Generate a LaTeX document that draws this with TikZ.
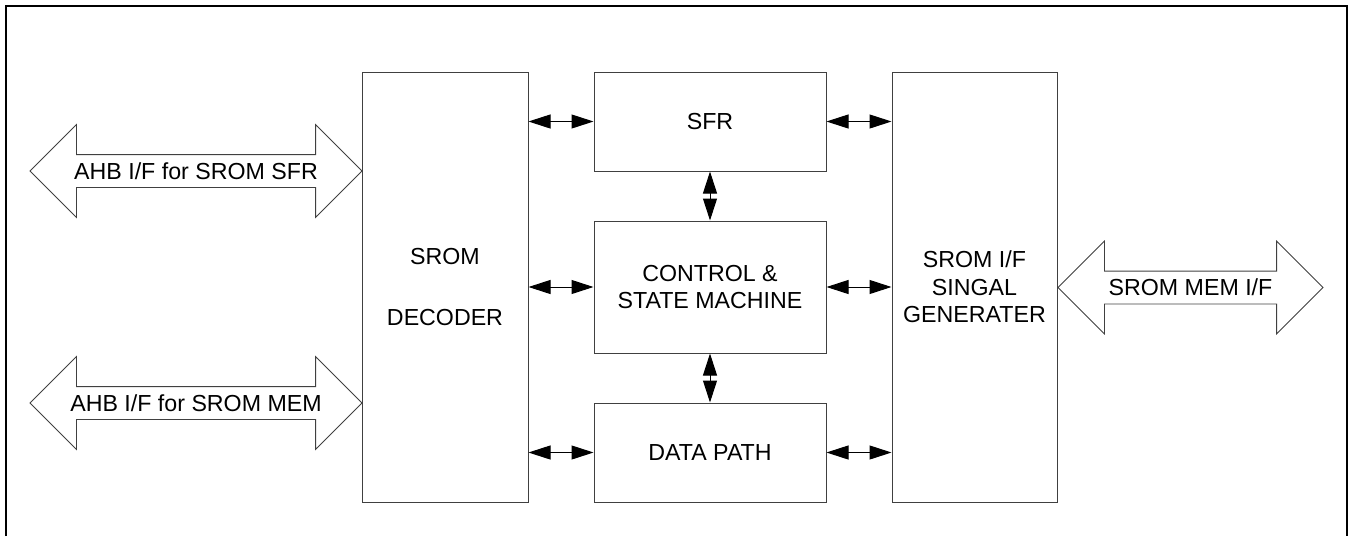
\documentclass[tikz,border=0pt]{standalone}
\usepackage{fontspec}
\setmainfont{Liberation Sans}
\usetikzlibrary{arrows.meta,shapes.arrows}
\begin{document}
\begin{tikzpicture}
		[x=0.5pt,y=-0.5pt,%
		  block/.style={shape=rectangle,draw=black!75,line width=0.5pt,align=center,inner sep=0pt},
		  bigarrow/.style={double arrow,draw=black!75,line width=0.4pt,double arrow head extend=15pt,
		    inner xsep=0pt,inner ysep=8pt},
		  link/.style={{Triangle[length=11pt,width=7pt]}-{Triangle[length=11pt,width=7pt]},line width=0.5pt}]
		\fontsize{11.6}{13.65}\selectfont
		\useasboundingbox (0,0) rectangle (1349,536);
		\draw[line width=1pt] (6,536) -- (6,6) -- (1347,6) -- (1347,536);
		% blocks
		\node[block,minimum width=83pt,minimum height=215pt] (dec) at (445,287) {SROM\\[17pt]DECODER};
		\node[block,minimum width=116pt,minimum height=49.5pt] (sfr) at (710,121.5) {SFR};
		\node[block,minimum width=116pt,minimum height=66pt] (ctrl) at (710,287) {CONTROL \&\\STATE MACHINE};
		\node[block,minimum width=116pt,minimum height=49.5pt] (data) at (710,452.5) {DATA PATH};
		\node[block,minimum width=82.5pt,minimum height=215pt] (gen) at (974.5,287) {SROM I/F\\SINGAL\\GENERATER};
		% bus arrows
		\node[bigarrow,minimum height=166pt,label=center:{AHB I/F for SROM SFR}] (ahbsfr) at (196,171) {};
		\node[bigarrow,minimum height=166pt,label=center:{AHB I/F for SROM MEM}] (ahbmem) at (196,403) {};
		\node[bigarrow,minimum height=132.5pt,label=center:{SROM MEM I/F}] (memif) at (1190.5,287.5) {};
		% links
		\draw[link] (dec.east |- sfr.west) -- (sfr.west);
		\draw[link] (dec.east |- ctrl.west) -- (ctrl.west);
		\draw[link] (dec.east |- data.west) -- (data.west);
		\draw[link] (sfr.east) -- (gen.west |- sfr.east);
		\draw[link] (ctrl.east) -- (gen.west |- ctrl.east);
		\draw[link] (data.east) -- (gen.west |- data.east);
		\draw[link] (sfr.south) -- (ctrl.north);
		\draw[link] (ctrl.south) -- (data.north);
	\end{tikzpicture}
\end{document}
